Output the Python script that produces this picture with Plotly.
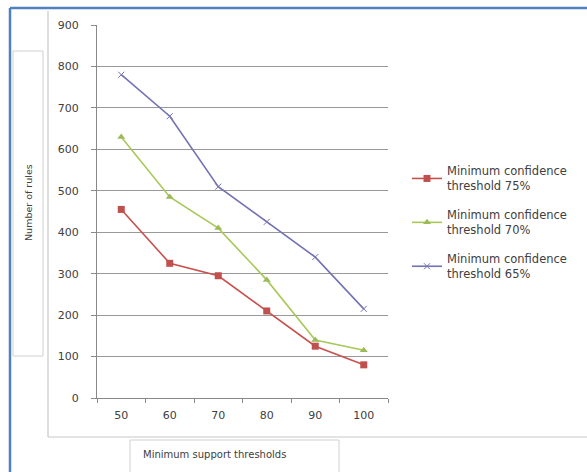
import plotly.graph_objects as go

categories = ["50", "60", "70", "80", "90", "100"]
conf75 = [455, 325, 295, 210, 125, 80]
conf70 = [630, 485, 410, 285, 140, 115]
conf65 = [780, 680, 510, 425, 340, 215]
series_names = ["Minimum confidence<br>threshold 75%",
                "Minimum confidence<br>threshold 70%",
                "Minimum confidence<br>threshold 65%"]
y_ticks = [0, 100, 200, 300, 400, 500, 600, 700, 800, 900]

W, H = 587, 472
L, R, T, B = 97, 388, 25, 398

def px(x):
    return (x - L) / (R - L)

def py(y):
    return (B - y) / (B - T)

font = "DejaVu Sans, sans-serif"
txt = "#404040"

fig = go.Figure()
fig.add_trace(go.Scatter(x=categories, y=conf75, name=series_names[0], mode="lines+markers",
                         legendgroup="a",
                         line=dict(color="#C8504D", width=1.6),
                         marker=dict(symbol="square", size=7, color="#C0504D")))
fig.add_trace(go.Scatter(x=categories, y=conf70, name=series_names[1], mode="lines+markers",
                         legendgroup="b",
                         line=dict(color="#A8C858", width=1.6),
                         marker=dict(symbol="triangle-up", size=7, color="#9BBB59")))
fig.add_trace(go.Scatter(x=categories, y=conf65, name=series_names[2], mode="lines+markers",
                         legendgroup="c",
                         line=dict(color="#7272B4", width=1.6),
                         marker=dict(symbol="x-thin", size=6, color="#7272B4",
                                     line=dict(width=1, color="#7272B4"))))

shapes = []
blue = "#4F81BD"
grey = "#C8C8C8"
# outer blue frame
shapes.append(dict(type="line", xref="paper", yref="paper", x0=px(10), x1=px(10), y0=py(8), y1=py(472),
                   line=dict(color=blue, width=2.5)))
shapes.append(dict(type="line", xref="paper", yref="paper", x0=px(10), x1=px(587), y0=py(8), y1=py(8),
                   line=dict(color=blue, width=2.5)))
# chart area border
shapes.append(dict(type="line", xref="paper", yref="paper", x0=px(48), x1=px(48), y0=py(11), y1=py(437),
                   line=dict(color=grey, width=1.2)))
shapes.append(dict(type="line", xref="paper", yref="paper", x0=px(48), x1=px(587), y0=py(437), y1=py(437),
                   line=dict(color=grey, width=1.2)))
# axis title boxes
shapes.append(dict(type="rect", xref="paper", yref="paper", x0=px(13), x1=px(43), y0=py(51), y1=py(356),
                   line=dict(color="#D0D0D0", width=1)))
shapes.append(dict(type="rect", xref="paper", yref="paper", x0=px(130), x1=px(339), y0=py(440), y1=py(475),
                   line=dict(color="#D0D0D0", width=1)))

annotations = [
    dict(text="Number of rules", xref="paper", yref="paper", x=px(28), y=py(203), textangle=-90,
         showarrow=False, font=dict(family=font, size=9.5, color=txt), xanchor="center", yanchor="middle"),
    dict(text="Minimum support thresholds", xref="paper", yref="paper", x=px(141), y=py(455),
         showarrow=False, font=dict(family=font, size=10, color=txt), xanchor="left", yanchor="middle"),
]

fig.update_layout(
    width=W, height=H,
    margin=dict(l=L, r=W - R, t=T, b=H - B),
    paper_bgcolor="white", plot_bgcolor="white",
    font=dict(family=font, size=11, color=txt),
    shapes=shapes, annotations=annotations,
    legend=dict(x=px(407), y=py(157), xanchor="left", yanchor="top",
                font=dict(family=font, size=11.5, color=txt),
                tracegroupgap=11, itemwidth=30, bgcolor="rgba(0,0,0,0)"),
    xaxis=dict(type="category", categoryorder="array", categoryarray=categories,
               range=[-0.5, 5.5], showgrid=False, showline=True, linecolor="#888888", linewidth=1,
               ticks="outside", tickson="boundaries", ticklen=4, tickcolor="#888888",
               ticklabelstandoff=7, tickfont=dict(size=11)),
    yaxis=dict(range=[0, 900], tickvals=y_ticks, showgrid=True, gridcolor="#999999", gridwidth=1,
               showline=True, linecolor="#888888", linewidth=1, ticks="outside", ticklen=5,
               tickcolor="#888888", ticklabelstandoff=10, zeroline=False, tickfont=dict(size=11)),
    showlegend=True,
)

fig.write_html("out.html")
